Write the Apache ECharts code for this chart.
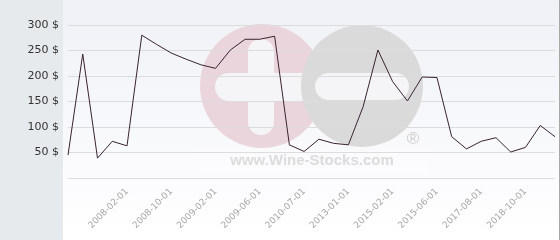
<!DOCTYPE html>
<html>
<head>
<meta charset="utf-8">
<script src="https://cdn.jsdelivr.net/npm/echarts@6/dist/echarts.min.js"></script>
<style>
html,body{margin:0;padding:0;background:#fff;}
#chart{width:560px;height:240px;}
</style>
</head>
<body>
<div id="chart"></div>
<script>
// Category labels (only the labelled dates are known; others left blank)
const categories = [
  '', '', '', '', '2008-02-01', '', '', '2008-10-01', '', '',
  '2009-02-01', '', '', '2009-06-01', '', '', '2010-07-01', '', '', '2013-01-01',
  '', '', '2015-02-01', '', '', '2015-06-01', '', '', '2017-08-01', '',
  '', '2018-10-01', '', ''
];
const prices = [
  45, 243, 39, 72, 63, 280, 262, 245, 233, 222,
  215, 251, 272, 272, 278, 65, 52, 76, 68, 65,
  140, 251, 189, 151, 198, 197, 81, 57, 72, 79,
  51, 60, 103, 81
];
const yTicks = [0, 50, 100, 150, 200, 250, 300];
const currency = ' $';

const chart = echarts.init(document.getElementById('chart'), null, {renderer: 'canvas'});
const holeColor = '#f5f5f8';
chart.setOption({
  animation: false,
  graphic: [
    {type: 'rect', z: -10, shape: {x: 0, y: 0, width: 63, height: 240}, style: {fill: '#e6eaed'}},
    {type: 'rect', z: -10, shape: {x: 63, y: 0, width: 496, height: 240},
      style: {fill: new echarts.graphic.LinearGradient(0, 0, 0, 1, [
        {offset: 0, color: '#eff1f6'}, {offset: 1, color: '#ffffff'}])}},
    {type: 'rect', z: -10, shape: {x: 559, y: 0, width: 1, height: 240}, style: {fill: '#a8a8a8'}},
    // watermark
    {type: 'circle', z: -9, shape: {cx: 262, cy: 86, r: 62}, style: {fill: '#ebd5dc'}},
    {type: 'rect', z: -9, shape: {x: 215, y: 73, width: 110, height: 28, r: 14}, style: {fill: holeColor}},
    {type: 'rect', z: -9, shape: {x: 248, y: 39, width: 26, height: 96, r: 13}, style: {fill: holeColor}},
    {type: 'circle', z: -9, shape: {cx: 362, cy: 86, r: 61}, style: {fill: '#dadada'}},
    {type: 'rect', z: -9, shape: {x: 315, y: 73, width: 94, height: 27, r: 13.5}, style: {fill: holeColor}},
    {type: 'rect', z: -9, shape: {x: 198, y: 151, width: 230, height: 22}, style: {fill: 'rgba(255,255,255,0.3)'}},
    {type: 'text', z: -9, style: {x: 312, y: 161, text: 'www.Wine-Stocks.com', fill: '#dcdcdc',
      font: 'bold 15px "Liberation Sans", Arial, sans-serif', align: 'center', verticalAlign: 'middle'}},
    {type: 'text', z: -9, style: {x: 413, y: 139, text: '\u00AE', fill: '#cfcfcf',
      font: '17px "Liberation Sans", Arial, sans-serif', align: 'center', verticalAlign: 'middle'}}
  ],
  grid: {left: 68, right: 5, top: 25, bottom: 62, containLabel: false},
  xAxis: {
    type: 'category',
    data: categories,
    boundaryGap: false,
    axisLine: {show: false},
    axisTick: {show: false},
    splitLine: {show: false},
    axisLabel: {
      interval: 0, rotate: 45, margin: 12,
      color: '#a6a6a6', fontSize: 9, fontFamily: 'DejaVu Sans'
    }
  },
  yAxis: {
    type: 'value',
    min: yTicks[0], max: yTicks[yTicks.length - 1], interval: 50,
    axisLine: {show: false},
    axisTick: {show: false},
    splitLine: {lineStyle: {color: '#dcdcdf', width: 1}},
    axisLabel: {
      margin: 9, color: '#333', fontSize: 11, fontFamily: 'DejaVu Sans',
      formatter: v => v === 0 ? '' : v + currency
    }
  },
  series: [{
    type: 'line',
    data: prices,
    symbol: 'none',
    lineStyle: {color: '#3b2230', width: 1},
    itemStyle: {color: '#3b2230'}
  }]
});
</script>
</body>
</html>
